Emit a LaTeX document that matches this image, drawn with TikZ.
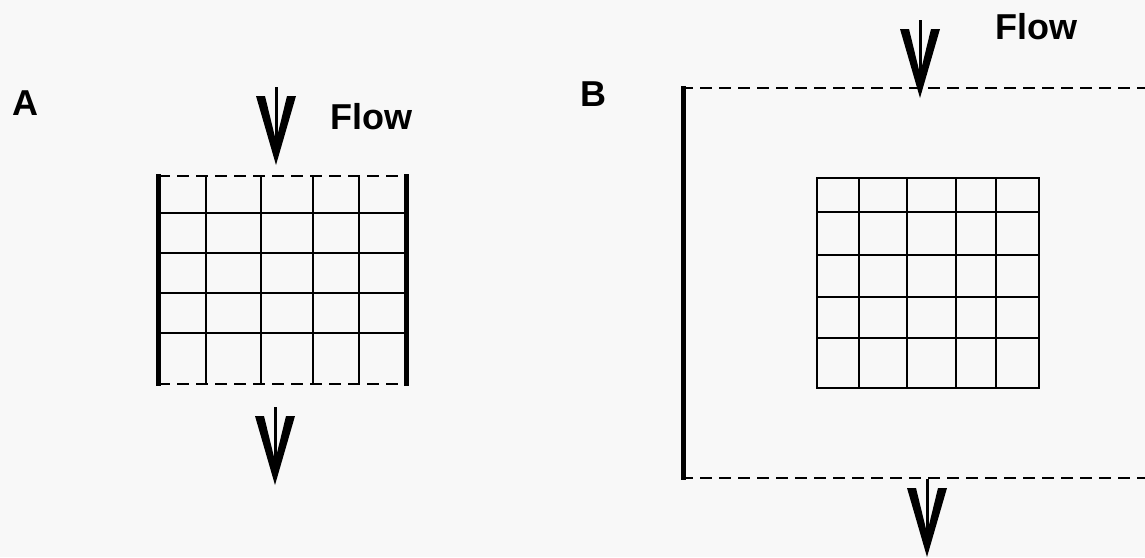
\documentclass[tikz,border=0pt]{standalone}
\usepackage{fontspec}
\setmainfont{Liberation Sans}
\definecolor{paper}{RGB}{248,248,248}
\tikzset{
  gridline/.style={line width=2.6pt},
  wallline/.style={line width=5pt},
  openline/.style={line width=2.8pt, dash pattern=on 12pt off 7pt},
  lbl/.style={inner sep=0pt, font=\fontsize{36}{40}\selectfont\bfseries},
  flowarrow/.pic={
    \fill (-20,-69) -- (-11,-69) -- (0,-24) -- (11,-69) -- (20,-69) -- (0,0) -- cycle;
    \draw[line width=3pt] (0,-78) -- (0,-18);
  }
}
\begin{document}
\begin{tikzpicture}[x=1pt,y=-1pt]
\fill[paper] (0,0) rectangle (1145,557);
\useasboundingbox (0,0) rectangle (1145,557);

% labels
\node[lbl] (labA) at (25,103.5) {A};
\node[lbl] (labB) at (593.5,94) {B};
\node[lbl] (flowA) at (371,116.5) {Flow};
\node[lbl] (flowB) at (1036,27) {Flow};

% ---- Panel A ----
\foreach \x in {206,261,313,359} \draw[gridline] (\x,176) -- (\x,384);
\foreach \y in {213,253,293,333} \draw[gridline] (158,\y) -- (406,\y);
\draw[openline] (158,176) -- (406,176);
\draw[openline] (158,384) -- (406,384);
\draw[wallline] (158,174) -- (158,386);
\draw[wallline] (406,174) -- (406,386);
\pic at (276,165) {flowarrow};
\pic at (275,485) {flowarrow};

% ---- Panel B ----
\draw[wallline] (683,86) -- (683,480);
\draw[openline] (681,88) -- (1145,88);
\draw[openline] (681,478) -- (1145,478);
\foreach \x in {859,907,956,996} \draw[gridline] (\x,178) -- (\x,388);
\foreach \y in {212,255,297,338} \draw[gridline] (817,\y) -- (1039,\y);
\draw[gridline] (817,178) rectangle (1039,388);
\pic at (920,98) {flowarrow};
\pic at (927,557) {flowarrow};
\end{tikzpicture}
\end{document}
